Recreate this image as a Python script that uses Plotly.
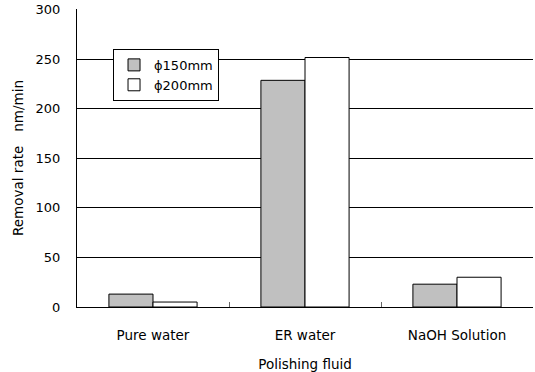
import plotly.graph_objects as go

categories = ["Pure water", "ER water", "NaOH Solution"]
series_names = ["ϕ150mm", "ϕ200mm"]
vals_150 = [13, 228.5, 23]
vals_200 = [5, 251.5, 30]
y_ticks = [0, 50, 100, 150, 200, 250, 300]

FONT = "DejaVu Sans"

fig = go.Figure()
fig.add_trace(go.Bar(x=categories, y=vals_150, name=series_names[0],
                     marker=dict(color="#c0c0c0", line=dict(color="#000000", width=1))))
fig.add_trace(go.Bar(x=categories, y=vals_200, name=series_names[1],
                     marker=dict(color="#ffffff", line=dict(color="#000000", width=1))))

fig.update_layout(
    width=535, height=372,
    margin=dict(l=77, r=2, t=9, b=65),
    plot_bgcolor="white", paper_bgcolor="white",
    font=dict(family=FONT, size=13, color="#000000"),
    barmode="group", bargap=0.42, bargroupgap=0,
    showlegend=True,
    legend=dict(x=0.079, y=0.866, xanchor="left", yanchor="top",
                bgcolor="white", bordercolor="#000000", borderwidth=1,
                font=dict(family=FONT, size=13), tracegroupgap=0,
                itemwidth=30),
)
fig.update_xaxes(
    automargin=False,
    showline=True, linecolor="#000000", linewidth=1,
    ticks="inside", tickson="boundaries", ticklen=5, tickcolor="#666666",
    ticklabelstandoff=16,
    title=dict(text="Polishing fluid", font=dict(size=13.5), standoff=17),
    tickfont=dict(size=13.5),
)
fig.update_yaxes(
    automargin=False,
    range=[0, 300.4], tickvals=y_ticks,
    showline=True, linecolor="#000000", linewidth=1,
    showgrid=True, gridcolor="#000000", gridwidth=1,
    ticks="", tickfont=dict(size=13),
    ticklabelstandoff=13,
    title=dict(text="Removal rate　nm/min", font=dict(size=13.5), standoff=8),
    zeroline=False,
)

fig.write_html("out.html")
